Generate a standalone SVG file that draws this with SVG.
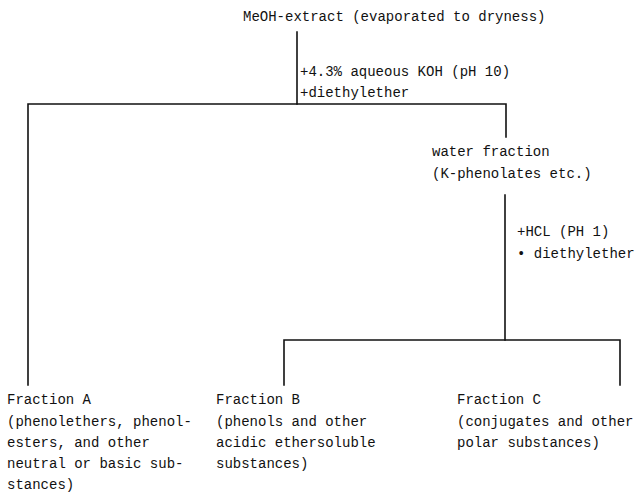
<svg xmlns="http://www.w3.org/2000/svg" width="637" height="493" viewBox="0 0 637 493">
  <style>
    text { font-family: "Liberation Mono", "DejaVu Sans Mono", monospace; font-size: 14px; fill: #111; }
    .c { stroke: #111; stroke-width: 1.6; fill: none; stroke-linecap: square; }
  </style>
  <rect width="637" height="493" fill="#fff"/>
  <g id="connectors">
    <path class="c" d="M297,32 V104"/>
    <path class="c" d="M28,385 V104 H506 V137"/>
    <path class="c" d="M505,195 V340"/>
    <path class="c" d="M284,385 V340 H620 V385"/>
  </g>
  <g id="node-extract">
    <text x="243" y="21">MeOH-extract (evaporated to dryness)</text>
  </g>
  <g id="label-koh">
    <text x="300" y="76">+4.3% aqueous KOH (pH 10)</text>
    <text x="300" y="97">+diethylether</text>
  </g>
  <g id="node-water">
    <text x="432" y="156">water fraction</text>
    <text x="432" y="178">(K-phenolates etc.)</text>
  </g>
  <g id="label-hcl">
    <text x="517" y="236">+HCL (PH 1)</text>
    <text x="517" y="258">• diethylether</text>
  </g>
  <g id="node-fraction-a">
    <text x="7" y="404">Fraction A</text>
    <text x="7" y="426">(phenolethers, phenol-</text>
    <text x="7" y="447">esters, and other</text>
    <text x="7" y="468">neutral or basic sub-</text>
    <text x="7" y="489">stances)</text>
  </g>
  <g id="node-fraction-b">
    <text x="216" y="404">Fraction B</text>
    <text x="216" y="426">(phenols and other</text>
    <text x="216" y="447">acidic ethersoluble</text>
    <text x="216" y="468">substances)</text>
  </g>
  <g id="node-fraction-c">
    <text x="457" y="404">Fraction C</text>
    <text x="457" y="426">(conjugates and other</text>
    <text x="457" y="447">polar substances)</text>
  </g>
</svg>
